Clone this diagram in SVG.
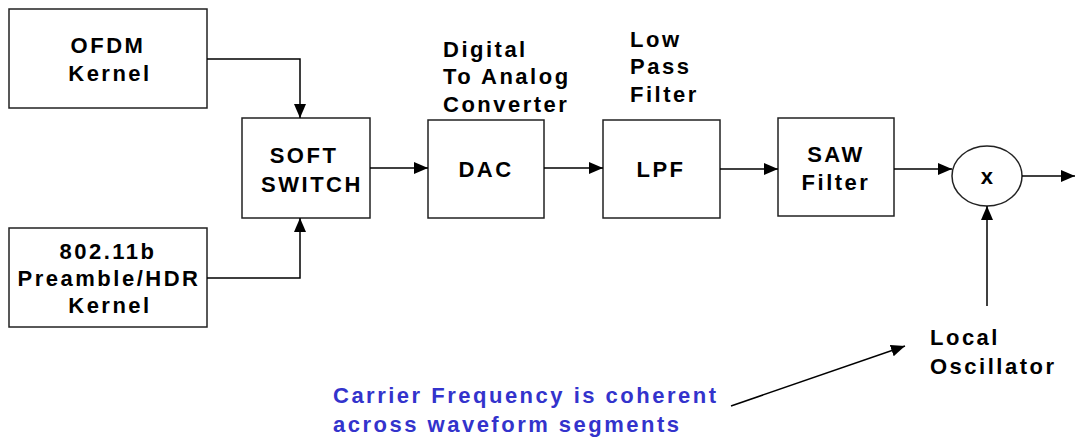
<svg xmlns="http://www.w3.org/2000/svg" width="1075" height="439" viewBox="0 0 1075 439">
<style>
.box{fill:#fff;stroke:#222;stroke-width:1.5}
.t{font-family:"Liberation Sans",Arial,sans-serif;font-weight:bold;font-size:22px;letter-spacing:2.5px;fill:#000}
.c{text-anchor:middle}
.blue{fill:#3333CC;letter-spacing:2.5px}
.ln{fill:none;stroke:#000;stroke-width:1.5}
</style>
<defs>
<marker id="ah" markerUnits="userSpaceOnUse" markerWidth="16" markerHeight="12" refX="14" refY="6" orient="auto">
<path d="M0,0 L14,6 L0,12 Z" fill="#000"/>
</marker>
</defs>
<rect width="1075" height="439" fill="#fff"/>
<g id="ofdm">
<rect class="box" x="9" y="9" width="198" height="99"/>
<text class="t c" x="108" y="53">OFDM</text>
<text class="t c" x="110" y="81">Kernel</text>
</g>
<g id="b80211">
<rect class="box" x="9" y="228" width="198" height="99"/>
<text class="t c" x="108" y="259">802.11b</text>
<text class="t c" x="109" y="286">Preamble/HDR</text>
<text class="t c" x="110" y="313">Kernel</text>
</g>
<g id="softswitch">
<rect class="box" x="242" y="118" width="128" height="100"/>
<text class="t c" x="304" y="163">SOFT</text>
<text class="t c" x="312" y="192">SWITCH</text>
</g>
<g id="dac">
<rect class="box" x="428" y="120" width="116" height="98"/>
<text class="t c" x="486" y="177">DAC</text>
<text class="t" x="443" y="57">Digital</text>
<text class="t" x="443" y="84">To Analog</text>
<text class="t" x="443" y="112">Converter</text>
</g>
<g id="lpf">
<rect class="box" x="603" y="120" width="117" height="98"/>
<text class="t c" x="661" y="177">LPF</text>
<text class="t" x="630" y="47">Low</text>
<text class="t" x="630" y="74">Pass</text>
<text class="t" x="630" y="102">Filter</text>
</g>
<g id="saw">
<rect class="box" x="778" y="118" width="116" height="98"/>
<text class="t c" x="836" y="162">SAW</text>
<text class="t c" x="836" y="190">Filter</text>
</g>
<g id="mixer">
<ellipse class="box" cx="987" cy="176" rx="35" ry="30"/>
<text class="t c" x="988" y="184">x</text>
</g>
<g id="lo">
<text class="t" x="930" y="345">Local</text>
<text class="t" x="930" y="374">Oscillator</text>
</g>
<g id="note">
<text class="t blue" x="333" y="403">Carrier Frequency is coherent</text>
<text class="t blue" x="333" y="432">across waveform segments</text>
</g>
<g id="connectors">
<polyline class="ln" points="207,59 300,59 300,118" marker-end="url(#ah)"/>
<polyline class="ln" points="207,278 300,278 300,218" marker-end="url(#ah)"/>
<line class="ln" x1="370" y1="168" x2="428" y2="168" marker-end="url(#ah)"/>
<line class="ln" x1="544" y1="168" x2="603" y2="168" marker-end="url(#ah)"/>
<line class="ln" x1="720" y1="169" x2="778" y2="169" marker-end="url(#ah)"/>
<line class="ln" x1="894" y1="169" x2="952" y2="169" marker-end="url(#ah)"/>
<line class="ln" x1="1022" y1="176" x2="1075" y2="176" marker-end="url(#ah)"/>
<line class="ln" x1="987" y1="306" x2="987" y2="206" marker-end="url(#ah)"/>
<line class="ln" x1="731" y1="406" x2="905" y2="346" marker-end="url(#ah)"/>
</g>
</svg>
